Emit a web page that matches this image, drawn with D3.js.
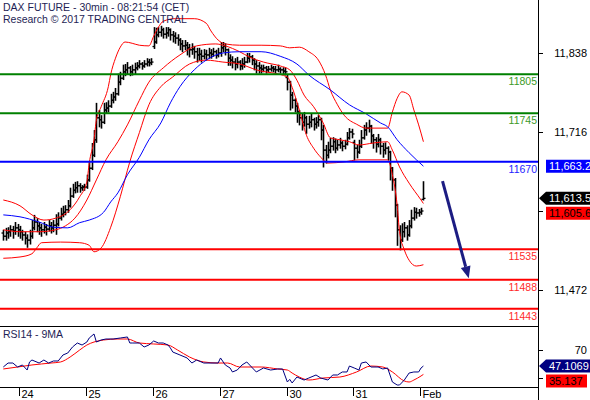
<!DOCTYPE html>
<html>
<head>
<meta charset="utf-8">
<script src="https://cdn.jsdelivr.net/npm/d3@7"></script>
<style>
body{margin:0;background:#fff;}
svg{display:block;font-family:"Liberation Sans",Arial,sans-serif;}
</style>
</head>
<body>
<div id="chart"></div>
<script>
// ---- data ----
var title1 = "DAX FUTURE - 30min - 08:21:54 (CET)";
var title2 = "Research \u00a9 2017 TRADING CENTRAL";

var dayLabels = ["24", "25", "26", "27", "30", "31", "Feb"];
var dayStart = [7, 35, 63, 91, 119, 147, 175];   // bar index of first bar of each day

var priceTicks = [11838, 11716, 11594, 11472];
var rsiTicks = [70, 30];

var levels = [11805, 11745, 11670, 11535, 11488, 11443];

// 30 min bars: [open, high, low, close]
var bars = [
[11560,11565,11549,11555],[11555,11568,11549,11560],[11560,11569,11552,11562],[11562,11572,11555,11565],
[11565,11571,11552,11563],[11563,11577,11558,11568],[11568,11574,11555,11565],[11565,11571,11552,11562],
[11562,11565,11549,11557],[11557,11562,11543,11552],[11552,11558,11538,11549],[11549,11565,11543,11555],
[11555,11580,11552,11568],[11568,11588,11565,11577],[11577,11583,11562,11571],[11571,11577,11558,11568],
[11568,11574,11555,11565],[11565,11577,11560,11569],[11569,11574,11557,11566],[11566,11580,11563,11571],
[11571,11577,11560,11568],[11568,11580,11562,11572],[11572,11589,11558,11574],[11574,11592,11571,11583],
[11583,11599,11580,11589],[11589,11602,11585,11592],[11592,11603,11588,11596],[11596,11611,11592,11602],
[11602,11630,11600,11617],[11617,11636,11615,11626],[11626,11639,11622,11630],[11630,11640,11623,11633],
[11633,11637,11623,11630],[11630,11634,11626,11631],[11631,11636,11626,11631],[11631,11650,11629,11642],
[11642,11670,11640,11660],[11660,11699,11658,11680],[11680,11719,11678,11704],[11704,11761,11700,11738],
[11738,11750,11724,11735],[11735,11742,11722,11731],[11731,11761,11729,11750],[11750,11762,11745,11753],
[11753,11765,11747,11756],[11756,11775,11754,11765],[11765,11778,11761,11770],[11770,11784,11765,11775],
[11775,11806,11773,11793],[11793,11809,11789,11799],[11799,11820,11797,11809],[11809,11821,11803,11812],
[11812,11824,11806,11815],[11815,11818,11803,11809],[11809,11820,11804,11812],[11812,11823,11806,11815],
[11815,11824,11812,11818],[11818,11827,11815,11821],[11821,11824,11813,11818],[11818,11827,11816,11821],
[11821,11830,11818,11824],[11824,11829,11818,11823],[11823,11830,11820,11824],[11848,11878,11845,11855],
[11855,11877,11853,11866],[11866,11878,11863,11870],[11870,11880,11864,11874],[11874,11877,11861,11867],
[11867,11878,11861,11869],[11869,11878,11864,11874],[11874,11876,11858,11866],[11866,11872,11855,11864],
[11864,11870,11853,11861],[11861,11867,11850,11858],[11858,11861,11843,11852],[11852,11858,11840,11849],
[11849,11858,11843,11850],[11850,11855,11835,11846],[11846,11852,11832,11843],[11843,11853,11836,11844],
[11844,11849,11830,11840],[11840,11846,11824,11835],[11835,11846,11827,11836],[11836,11843,11824,11833],
[11833,11844,11829,11836],[11836,11843,11827,11835],[11835,11846,11830,11838],[11838,11844,11830,11836],
[11836,11846,11833,11840],[11840,11843,11830,11835],[11835,11846,11832,11838],[11838,11855,11833,11846],
[11846,11855,11840,11849],[11849,11853,11835,11843],[11843,11845,11819,11830],[11830,11836,11819,11827],
[11827,11833,11815,11824],[11824,11830,11812,11821],[11821,11832,11815,11824],[11824,11827,11812,11818],
[11818,11830,11813,11821],[11821,11832,11816,11824],[11824,11838,11823,11830],[11830,11838,11824,11832],
[11832,11835,11820,11827],[11827,11830,11812,11821],[11821,11827,11807,11818],[11818,11824,11807,11815],
[11815,11820,11807,11813],[11813,11820,11809,11815],[11815,11818,11807,11812],[11812,11818,11809,11813],
[11813,11820,11810,11815],[11815,11818,11809,11813],[11813,11818,11807,11812],[11812,11820,11809,11813],
[11813,11816,11807,11812],[11812,11816,11806,11810],[11810,11815,11804,11809],[11800,11804,11781,11793],
[11793,11795,11750,11773],[11773,11778,11753,11765],[11765,11768,11747,11756],[11756,11761,11731,11747],
[11747,11750,11727,11738],[11738,11745,11719,11731],[11731,11747,11725,11738],[11738,11741,11714,11728],
[11728,11741,11722,11731],[11731,11744,11724,11735],[11735,11738,11719,11728],[11728,11739,11722,11731],
[11731,11742,11725,11735],[11735,11738,11704,11719],[11719,11727,11662,11688],[11688,11696,11668,11680],
[11680,11701,11676,11688],[11688,11707,11684,11694],[11694,11708,11688,11701],[11701,11706,11684,11691],
[11691,11704,11688,11696],[11696,11707,11691,11699],[11699,11702,11687,11694],[11694,11704,11690,11697],
[11697,11716,11696,11707],[11707,11722,11705,11716],[11716,11721,11707,11713],[11700,11704,11673,11691],
[11691,11696,11676,11685],[11685,11704,11683,11694],[11694,11719,11692,11707],[11707,11727,11705,11719],
[11719,11731,11711,11722],[11722,11735,11716,11725],[11725,11727,11699,11710],[11710,11713,11691,11704],
[11704,11708,11685,11697],[11697,11713,11693,11704],[11704,11707,11682,11694],[11694,11699,11677,11688],
[11688,11700,11682,11691],[11691,11694,11673,11685],[11685,11687,11642,11660],[11660,11662,11626,11642],
[11642,11645,11585,11603],[11603,11605,11541,11565],[11565,11572,11534,11549],[11549,11575,11547,11562],
[11562,11577,11554,11568],[11568,11572,11549,11557],[11557,11580,11555,11571],[11571,11596,11568,11583],
[11583,11600,11580,11592],[11592,11599,11583,11591],[11591,11597,11586,11592],[11592,11599,11589,11594],
[11612,11640,11611,11613.5]
];

// indicators: [bar index, value]
var bbUpper = [[0,11611],[7,11602],[12,11588],[17,11580],[22,11583],[28,11596],[32,11616],[35,11639],
[36,11668],[38,11704],[39,11735],[41,11755],[44,11786],[45,11805],[47,11830],[49,11847],[51,11855],[54,11853],
[57,11850],[61,11849],[63,11864],[65,11878],[67,11887],[72,11891],[80,11891],[85,11884],[87,11872],[90,11858],
[93,11852],[99,11850],[108,11850],[116,11849],[120,11846],[124,11847],[128,11840],[132,11827],[135,11804],
[137,11781],[140,11758],[143,11741],[148,11728],[152,11722],[161,11722],[163,11747],[165,11768],[167,11778],
[170,11773],[172,11750],[174,11727],[176,11701]];
var bbMiddle = [[0,11565],[7,11562],[15,11562],[22,11565],[26,11571],[30,11583],[35,11611],[39,11642],
[43,11673],[48,11701],[52,11727],[57,11765],[61,11793],[67,11815],[74,11835],[81,11849],[89,11852],[93,11849],
[99,11840],[103,11832],[109,11824],[116,11818],[120,11812],[123,11796],[126,11773],[130,11755],[134,11730],
[137,11707],[141,11704],[145,11701],[149,11696],[155,11699],[161,11701],[163,11688],[166,11662],[170,11637],
[175,11611],[176,11605.6]];
var bbLower = [[0,11521],[7,11523],[12,11528],[14,11537],[16,11545],[24,11546],[32,11545],[36,11541],
[38,11531],[41,11537],[45,11569],[49,11616],[53,11670],[57,11715],[61,11758],[66,11786],[71,11801],[78,11821],
[85,11827],[92,11824],[99,11821],[106,11812],[119,11801],[121,11785],[124,11750],[127,11711],[130,11691],
[133,11677],[136,11668],[143,11670],[149,11673],[161,11673],[163,11650],[165,11603],[166,11562],[168,11534],
[170,11518],[173,11509],[176,11511]];
var ma = [[0,11588],[7,11585],[15,11577],[21,11569],[27,11568],[32,11576],[36,11580],[42,11592],[45,11608],
[48,11622],[52,11650],[57,11677],[61,11704],[66,11730],[70,11761],[74,11786],[80,11812],[85,11827],[92,11838],
[99,11840],[108,11840],[116,11833],[123,11821],[128,11804],[137,11781],[145,11758],[152,11744],[158,11730],
[161,11724],[165,11704],[170,11684],[176,11663.2]];

var rsi = [[0,45.7],[2,51.4],[4,51.4],[6,45.7],[8,48.6],[10,41.4],[11,52.9],[12,55.7],[15,51.4],[17,55.7],
[19,51.4],[21,54.3],[23,54.3],[25,62.9],[27,65.7],[29,74.3],[31,80],[33,77.1],[35,81.4],[36,87.1],[38,92.9],
[39,81.4],[41,84.3],[43,85.7],[46,85.7],[49,87.1],[52,88.6],[53,80],[54,80],[57,80],[59,74.3],[61,77.1],
[63,82.9],[65,80],[67,80],[69,77.1],[70,72.9],[71,67.1],[74,62.9],[77,58.6],[79,51.4],[81,55.7],[84,51.4],
[87,51.4],[90,51.4],[91,58.6],[93,48.6],[95,44.3],[96,38.6],[98,41.4],[100,48.6],[102,52.9],[104,45.7],
[106,38.6],[109,44.3],[112,41.4],[115,42.9],[117,42.9],[119,24.3],[120,28],[121,22.9],[123,31.4],[126,27.1],
[128,30],[131,34.3],[133,30],[136,27.1],[138,34.3],[140,34.3],[142,38.6],[144,38.6],[145,47.1],[147,44.3],
[149,41.4],[150,51.4],[152,52.9],[154,45.7],[157,45.7],[159,42.9],[161,44.3],[162,34.3],[163,24.3],[165,20],
[166,20],[168,27.1],[170,37.1],[172,38.6],[174,38.6],[175,44.3],[176,47.1069]];
var rsiMa = [[0,42.9],[6,45.7],[12,48.6],[20,51.4],[24,52.9],[28,60],[32,70],[35,77.1],[38,81.4],[42,84.3],
[48,85.7],[52,85.7],[57,80],[63,78.6],[69,77.1],[73,70],[78,60],[84,52.9],[90,51.4],[94,51.4],[99,45.7],
[108,45.7],[115,42.9],[119,41.4],[121,37.1],[124,31.4],[128,27.1],[134,30],[141,31.4],[148,38.6],[154,47.1],
[159,45.7],[163,38.6],[168,25.7],[170,24.3],[172,27.1],[175,32.9],[176,35.137]];

var lastPrice = 11613.5, lastMa = 11663.2, lastMid = 11605.6;
var lastRsi = 47.1069, lastRsiMa = 35.137;
var arrowFrom = [184, 11640], arrowTo = [195, 11490];

// ---- styles ----
var levelLine = ["#008000", "#008000", "#0000ff", "#ff0000", "#ff0000", "#ff0000"];
var levelText = ["#3c9a28", "#3c9a28", "#2323ff", "#ff2a2a", "#ff2a2a", "#ff2a2a"];
var ink = "#1e1e55";

var W = 590, H = 400, axisX = 538, mainBottom = 326, rsiBottom = 387;

var svg = d3.select("#chart").append("svg").attr("width", W).attr("height", H);

var x = d3.scaleLinear().domain([0, 224]).range([3.3, axisX]);
var y = d3.scaleLinear().domain([11838, 11472]).range([53, 290]);
var yr = d3.scaleLinear().domain([30, 70]).range([378, 350]);

// ---- bars ----
var gb = svg.append("g").attr("stroke", "#000").attr("stroke-width", 1.6);
bars.forEach(function(b, i) {
    var cx = Math.round(x(i)) + 0.5;
    gb.append("line").attr("x1", cx).attr("x2", cx).attr("y1", y(b[1])).attr("y2", y(b[2]) + 0.5);
    gb.append("line").attr("x1", cx - 2).attr("x2", cx).attr("y1", y(b[0])).attr("y2", y(b[0])).attr("stroke-width", 1.3);
    gb.append("line").attr("x1", cx).attr("x2", cx + 2).attr("y1", y(b[3])).attr("y2", y(b[3])).attr("stroke-width", 1.3);
});

// ---- indicator lines ----
var priceLine = d3.line().x(function(d){ return x(d[0]); }).y(function(d){ return y(d[1]); }).curve(d3.curveMonotoneX);
[[bbUpper, "#ff0000"], [bbMiddle, "#ff0000"], [bbLower, "#ff0000"], [ma, "#0000ff"]].forEach(function(s){
    svg.append("path").attr("d", priceLine(s[0])).attr("fill", "none").attr("stroke", s[1]).attr("stroke-width", 1);
});

// ---- levels ----
levels.forEach(function(v, k) {
    svg.append("line").attr("x1", 0).attr("x2", axisX).attr("y1", y(v)).attr("y2", y(v))
        .attr("stroke", levelLine[k]).attr("stroke-width", 2);
    svg.append("text").attr("x", axisX - 1).attr("y", y(v) + 11).attr("text-anchor", "end")
        .attr("font-size", "10.5px").attr("fill", levelText[k]).text(v);
});

// ---- arrow ----
var ax1 = x(arrowFrom[0]), ay1 = y(arrowFrom[1]), ax2 = x(arrowTo[0]), ay2 = y(arrowTo[1]);
var ang = Math.atan2(ay2 - ay1, ax2 - ax1), hl = 12, hw = 5;
var bx = ax2 - hl * Math.cos(ang), by = ay2 - hl * Math.sin(ang);
svg.append("line").attr("x1", ax1).attr("y1", ay1).attr("x2", bx).attr("y2", by)
    .attr("stroke", "#1c1c82").attr("stroke-width", 3);
svg.append("path").attr("fill", "#1c1c82").attr("d",
    "M" + ax2 + "," + ay2 +
    "L" + (bx + hw * Math.sin(ang)) + "," + (by - hw * Math.cos(ang)) +
    "L" + (bx - hw * Math.sin(ang)) + "," + (by + hw * Math.cos(ang)) + "Z");

// ---- RSI ----
var rsiLine = d3.line().x(function(d){ return x(d[0]); }).y(function(d){ return yr(d[1]); });
svg.append("path").attr("d", rsiLine.curve(d3.curveMonotoneX)(rsiMa)).attr("fill", "none").attr("stroke", "#ff0000").attr("stroke-width", 1);
svg.append("path").attr("d", rsiLine.curve(d3.curveLinear)(rsi)).attr("fill", "none").attr("stroke", "#000080").attr("stroke-width", 1);

// ---- frame ----
svg.append("line").attr("x1", 0).attr("x2", axisX).attr("y1", mainBottom + 0.5).attr("y2", mainBottom + 0.5).attr("stroke", "#000");
svg.append("line").attr("x1", 0).attr("x2", axisX).attr("y1", rsiBottom + 0.5).attr("y2", rsiBottom + 0.5).attr("stroke", "#000");
svg.append("line").attr("x1", axisX + 0.5).attr("x2", axisX + 0.5).attr("y1", 0).attr("y2", H).attr("stroke", "#000");

// ---- right axes ----
function rightAxis(scale, ticks, fmt) {
    var g = svg.append("g").attr("transform", "translate(" + axisX + ",0)")
        .call(d3.axisRight(scale).tickValues(ticks).tickSize(5).tickFormat(fmt));
    g.select(".domain").remove();
    g.selectAll("text").attr("x", 49).attr("text-anchor", "end").attr("fill", "#000")
        .attr("font-size", "11px").attr("font-family", "Liberation Sans, Arial, sans-serif");
    g.selectAll("line").attr("stroke", "#000");
}
rightAxis(y, priceTicks, function(d){ return d === 11594 ? "" : d3.format(",")(d); });
rightAxis(yr, rsiTicks, function(d){ return d === 70 ? d : ""; });

// ---- value boxes ----
function valueBox(cy, bg, fg, label, arrow, right) {
    var h = 13, top = cy - h / 2;
    var p = arrow
        ? "M" + (axisX + 1) + "," + cy + "L" + (axisX + 8) + "," + top + "L" + right + "," + top + "L" + right + "," + (top + h) + "L" + (axisX + 8) + "," + (top + h) + "Z"
        : "M" + (axisX + 8) + "," + top + "L" + right + "," + top + "L" + right + "," + (top + h) + "L" + (axisX + 8) + "," + (top + h) + "Z";
    svg.append("path").attr("d", p).attr("fill", bg);
    svg.append("text").attr("x", axisX + 11).attr("y", cy + 4).attr("font-size", "11px").attr("fill", fg).text(label);
    return top + h;
}
valueBox(y(lastMa), "#0000ff", "#fff", d3.format(",.1f")(lastMa), false, 600);
var bot = valueBox(y(lastPrice), "#000", "#fff", d3.format(",.1f")(lastPrice), true, 600);
valueBox(Math.max(y(lastMid), bot + 2 + 6.5), "#ff0000", "#000", d3.format(",.1f")(lastMid), false, 600);
var bot2 = valueBox(yr(lastRsi), "#000080", "#fff", String(lastRsi), true, 600);
valueBox(Math.max(yr(lastRsiMa), bot2 + 2 + 6.5), "#ff0000", "#000", String(lastRsiMa), false, 587);

// ---- x axis days ----
dayStart.forEach(function(d, k) {
    var tx = Math.round(x(d - 0.3)) + 0.5;
    svg.append("line").attr("x1", tx).attr("x2", tx).attr("y1", rsiBottom).attr("y2", 396).attr("stroke", "#000");
    svg.append("text").attr("x", tx + 2).attr("y", 398).attr("font-size", "11px").attr("fill", "#000").text(dayLabels[k]);
});

// ---- titles ----
svg.append("text").attr("x", 3).attr("y", 11).attr("font-size", "10.5px").attr("fill", ink).text(title1);
svg.append("text").attr("x", 3).attr("y", 23).attr("font-size", "10.5px").attr("fill", ink).text(title2);
svg.append("text").attr("x", 3).attr("y", 338).attr("font-size", "10.5px").attr("fill", ink).text("RSI14 - 9MA");
</script>
</body>
</html>
